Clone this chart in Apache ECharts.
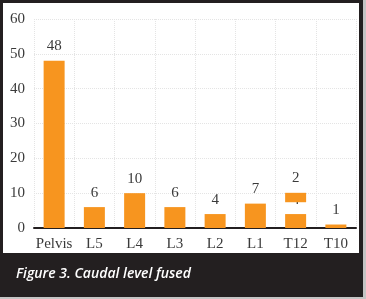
<!DOCTYPE html>
<html>
<head>
<meta charset="utf-8">
<script src="https://cdn.jsdelivr.net/npm/echarts@6/dist/echarts.min.js"></script>
<style>
  html, body { margin: 0; padding: 0; background: #bdbdbd; }
  #main { width: 366px; height: 299px; }
</style>
</head>
<body>
<div id="main"></div>
<script>
  // caudal level fused
  const levels = ['Pelvis', 'L5', 'L4', 'L3', 'L2', 'L1', 'T12', 'T10'];
  const counts = [48, 6, 10, 6, 4, 7, 4, 1];
  // stray patch drawn over the T12 column in the original figure
  const patchBase = [null, null, null, null, null, null, 7.4, null];
  const patchSize = [null, null, null, null, null, null, 2.7, null];
  const patchText = '2';
  const yTicks = [0, 10, 20, 30, 40, 50, 60];

  const orange = '#f7951f';
  const dark = '#231f20';
  const serif = '"Liberation Serif", "DejaVu Serif", serif';

  const myChart = echarts.init(document.getElementById('main'));

  const option = {
    backgroundColor: '#c4c4c4',
    animation: false,
    graphic: [{
      type: 'rect',
      shape: { x: 0, y: 0, width: 363, height: 297 },
      style: { fill: dark },
      z: -20
    }, {
      type: 'rect',
      shape: { x: 3, y: 3, width: 356, height: 250 },
      style: { fill: '#ffffff' },
      z: -10
    }, {
      type: 'text',
      left: 16,
      top: 267,
      style: {
        text: 'Figure 3. Caudal level fused',
        fill: '#ffffff',
        font: 'italic 600 14px "Open Sans", sans-serif'
      }
    }],
    grid: { left: 34, right: 10, top: 19, bottom: 71 },
    xAxis: {
      type: 'category',
      data: levels,
      axisLine: { lineStyle: { color: dark, width: 2 } },
      axisTick: { show: false },
      axisLabel: { color: '#3a3a3a', fontFamily: serif, fontSize: 15, margin: 9, interval: 0 },
      splitLine: { show: true, interval: 0, lineStyle: { color: '#e4e4e4', type: 'dotted' } }
    },
    yAxis: {
      type: 'value',
      min: yTicks[0],
      max: yTicks[yTicks.length - 1],
      interval: 10,
      axisLine: { show: false },
      axisTick: { show: false },
      axisLabel: { color: '#3a3a3a', fontFamily: serif, fontSize: 15, margin: 9 },
      splitLine: { lineStyle: { color: '#e4e4e4', type: 'dotted' } }
    },
    series: [{
      name: 'fused',
      type: 'bar',
      data: counts,
      barWidth: 21,
      barGap: '-100%',
      itemStyle: { color: orange },
      label: { show: true, position: 'top', distance: 7, color: '#3a3a3a', fontFamily: serif, fontSize: 15 },
      z: 2
    }, {
      name: 'base',
      type: 'bar',
      stack: 'patch',
      data: patchBase,
      barWidth: 21,
      barGap: '-100%',
      itemStyle: { color: 'transparent' },
      z: 3
    }, {
      name: 'patch',
      type: 'bar',
      stack: 'patch',
      data: patchSize,
      barWidth: 21,
      barGap: '-100%',
      itemStyle: { color: orange },
      label: {
        show: true, position: 'top', distance: 7, color: '#3a3a3a',
        fontFamily: serif, fontSize: 15, formatter: () => patchText
      },
      z: 3
    }]
  };

  myChart.setOption(option, true);
</script>
</body>
</html>
